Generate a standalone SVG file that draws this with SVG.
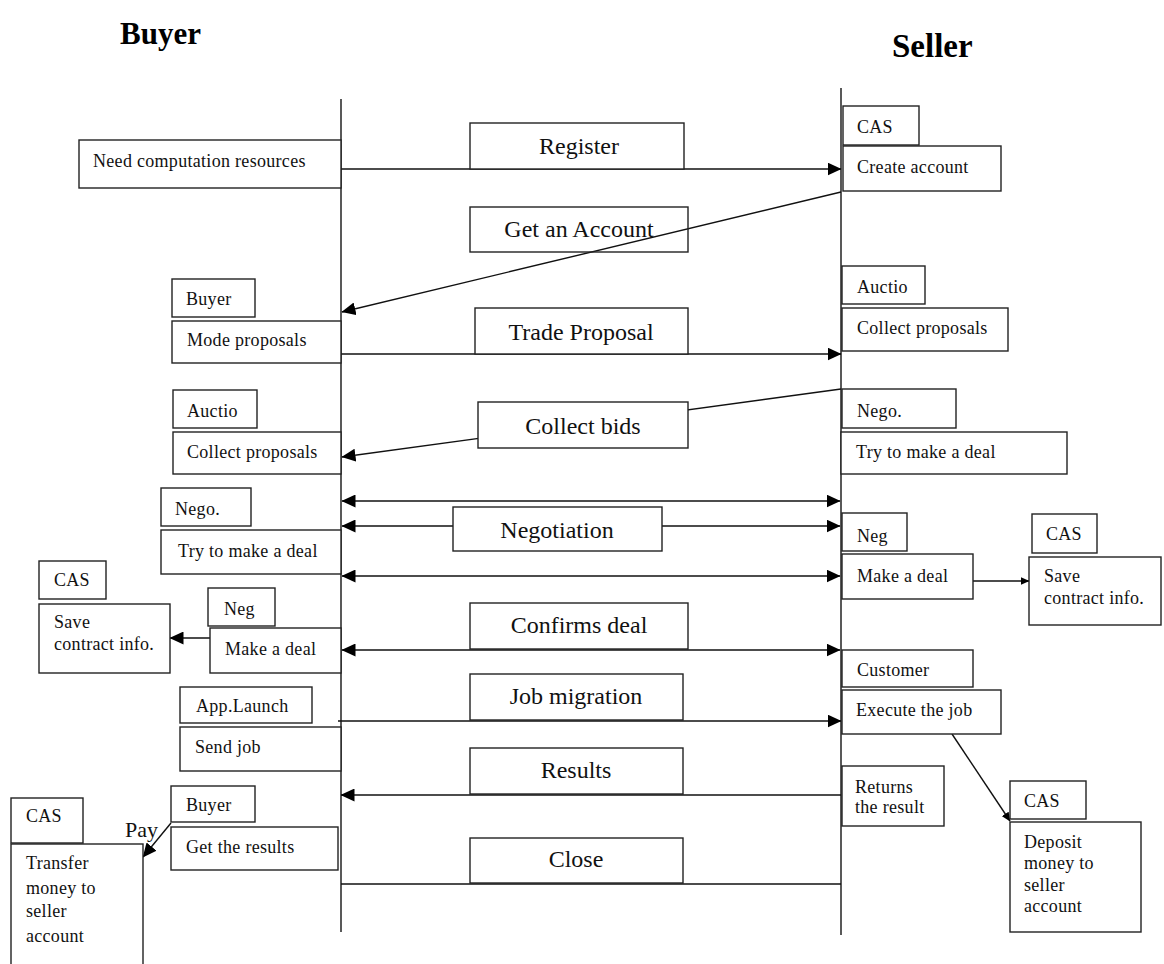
<svg xmlns="http://www.w3.org/2000/svg" width="1164" height="964" viewBox="0 0 1164 964">
  <style>
    .box { fill: #ffffff; stroke: #222; stroke-width: 1.4; }
    .open { fill: none; stroke: #222; stroke-width: 1.4; }
    .life { stroke: #222; stroke-width: 1.5; fill: none; }
    .wire { stroke: #111; stroke-width: 1.4; fill: none; }
    .t { font-family: "Liberation Serif", "Times New Roman", serif; font-size: 18px; letter-spacing: 0.3px; fill: #111; }
    .m { font-family: "Liberation Serif", "Times New Roman", serif; font-size: 24px; fill: #111; text-anchor: middle; }
    .h { font-family: "Liberation Serif", "Times New Roman", serif; font-weight: bold; fill: #000; }
  </style>
  <defs>
    <marker id="ah" viewBox="0 0 14 13" refX="13.5" refY="6.5" markerWidth="14" markerHeight="13" markerUnits="userSpaceOnUse" orient="auto-start-reverse">
      <path d="M0,0 L14,6.5 L0,13 z" fill="#000"/>
    </marker>
    <marker id="ahs" viewBox="0 0 9 8" refX="8.5" refY="4" markerWidth="9" markerHeight="8" markerUnits="userSpaceOnUse" orient="auto">
      <path d="M0,0 L9,4 L0,8 z" fill="#000"/>
    </marker>
  </defs>

  <rect width="1164" height="964" fill="#ffffff"/>

  <!-- titles -->
  <text class="h" x="120" y="44" font-size="31">Buyer</text>
  <text class="h" x="892" y="57" font-size="33">Seller</text>

  <!-- lifelines -->
  <g id="lifelines">
    <line class="life" x1="341" y1="99" x2="341" y2="932"/>
    <line class="life" x1="841" y1="88" x2="841" y2="935"/>
  </g>

  <!-- connectors -->
  <g id="connectors">
    <path class="wire" d="M341,169 H841" marker-end="url(#ah)"/>
    <path class="wire" d="M841,192 L342,312" marker-end="url(#ah)"/>
    <path class="wire" d="M341,354 H841" marker-end="url(#ah)"/>
    <path class="wire" d="M841,389 L342,457" marker-end="url(#ah)"/>
    <path class="wire" d="M342,501 H840" marker-start="url(#ah)" marker-end="url(#ah)"/>
    <path class="wire" d="M342,526 H840" marker-start="url(#ah)" marker-end="url(#ah)"/>
    <path class="wire" d="M342,576 H840" marker-start="url(#ah)" marker-end="url(#ah)"/>
    <path class="wire" d="M342,650 H840" marker-start="url(#ah)" marker-end="url(#ah)"/>
    <path class="wire" d="M973,581 H1029" marker-end="url(#ahs)"/>
    <path class="wire" d="M210,638 H170" marker-end="url(#ah)"/>
    <path class="wire" d="M338,721 H841" marker-end="url(#ah)"/>
    <path class="wire" d="M841,795 H341" marker-end="url(#ah)"/>
    <path class="wire" d="M341,884 H841"/>
    <path class="wire" d="M952,734 L1010,821" marker-end="url(#ahs)"/>
    <path class="wire" d="M171,823 L143,857" marker-end="url(#ah)"/>
    <text x="125" y="837" font-family="Liberation Serif, serif" font-size="22" fill="#111">Pay</text>
  </g>

  <!-- message labels -->
  <g id="msg-register"><rect class="box" x="470" y="123" width="214" height="46"/><text class="m" x="579" y="154">Register</text></g>
  <g id="msg-get-account"><rect class="open" x="470" y="207" width="218" height="45"/><text class="m" x="579" y="237">Get an Account</text></g>
  <g id="msg-trade"><rect class="box" x="475" y="308" width="213" height="46"/><text class="m" x="581" y="340">Trade Proposal</text></g>
  <g id="msg-bids"><rect class="box" x="478" y="402" width="210" height="46"/><text class="m" x="583" y="434">Collect bids</text></g>
  <g id="msg-negotiation"><rect class="box" x="453" y="507" width="209" height="44"/><text class="m" x="557" y="538">Negotiation</text></g>
  <g id="msg-confirms"><rect class="box" x="470" y="603" width="218" height="46"/><text class="m" x="579" y="633">Confirms deal</text></g>
  <g id="msg-job"><rect class="box" x="470" y="674" width="213" height="46"/><text class="m" x="576" y="704">Job migration</text></g>
  <g id="msg-results"><rect class="box" x="470" y="748" width="213" height="46"/><text class="m" x="576" y="778">Results</text></g>
  <g id="msg-close"><rect class="box" x="470" y="838" width="213" height="45"/><text class="m" x="576" y="867">Close</text></g>

  <!-- buyer side -->
  <g id="b-need"><rect class="box" x="79" y="140" width="262" height="48"/><text class="t" x="93" y="167">Need computation resources</text></g>
  <g id="b-buyer1"><rect class="box" x="172" y="279" width="83" height="38"/><text class="t" x="186" y="305">Buyer</text></g>
  <g id="b-mode"><rect class="box" x="172" y="321" width="169" height="42"/><text class="t" x="187" y="346">Mode proposals</text></g>
  <g id="b-auctio"><rect class="box" x="173" y="390" width="84" height="38"/><text class="t" x="187" y="417">Auctio</text></g>
  <g id="b-collect"><rect class="box" x="173" y="432" width="168" height="42"/><text class="t" x="187" y="458">Collect proposals</text></g>
  <g id="b-nego"><rect class="box" x="161" y="488" width="90" height="38"/><text class="t" x="175" y="515">Nego.</text></g>
  <g id="b-try"><rect class="box" x="161" y="530" width="180" height="44"/><text class="t" x="178" y="557">Try to make a deal</text></g>
  <g id="b-cas1"><rect class="box" x="39" y="561" width="67" height="38"/><text class="t" x="54" y="586">CAS</text></g>
  <g id="b-save"><rect class="box" x="39" y="604" width="131" height="69"/><text class="t" x="54" y="628">Save</text><text class="t" x="54" y="650">contract info.</text></g>
  <g id="b-neg"><rect class="box" x="208" y="588" width="67" height="38"/><text class="t" x="224" y="615">Neg</text></g>
  <g id="b-make"><rect class="box" x="210" y="628" width="131" height="45"/><text class="t" x="225" y="655">Make a deal</text></g>
  <g id="b-app"><rect class="box" x="180" y="687" width="132" height="36"/><text class="t" x="196" y="712">App.Launch</text></g>
  <g id="b-send"><rect class="box" x="180" y="727" width="161" height="44"/><text class="t" x="195" y="753">Send job</text></g>
  <g id="b-buyer2"><rect class="box" x="171" y="786" width="84" height="36"/><text class="t" x="186" y="811">Buyer</text></g>
  <g id="b-get"><rect class="box" x="171" y="827" width="167" height="43"/><text class="t" x="186" y="853">Get the results</text></g>
  <g id="b-cas2"><rect class="box" x="11" y="798" width="72" height="45"/><text class="t" x="26" y="822">CAS</text></g>
  <g id="b-transfer"><rect class="box" x="11" y="844" width="132" height="130"/>
    <text class="t" x="26" y="869">Transfer</text><text class="t" x="26" y="894">money to</text><text class="t" x="26" y="917">seller</text><text class="t" x="26" y="942">account</text></g>

  <!-- seller side -->
  <g id="s-cas1"><rect class="box" x="843" y="106" width="76" height="39"/><text class="t" x="857" y="133">CAS</text></g>
  <g id="s-create"><rect class="box" x="843" y="146" width="158" height="45"/><text class="t" x="857" y="173">Create account</text></g>
  <g id="s-auctio"><rect class="box" x="842" y="266" width="83" height="38"/><text class="t" x="857" y="293">Auctio</text></g>
  <g id="s-collect"><rect class="box" x="842" y="308" width="166" height="43"/><text class="t" x="857" y="334">Collect proposals</text></g>
  <g id="s-nego"><rect class="box" x="842" y="389" width="114" height="39"/><text class="t" x="857" y="417">Nego.</text></g>
  <g id="s-try"><rect class="box" x="841" y="432" width="226" height="42"/><text class="t" x="856" y="458">Try to make a deal</text></g>
  <g id="s-neg"><rect class="box" x="842" y="513" width="65" height="38"/><text class="t" x="857" y="542">Neg</text></g>
  <g id="s-make"><rect class="box" x="842" y="554" width="131" height="45"/><text class="t" x="857" y="582">Make a deal</text></g>
  <g id="s-cas2"><rect class="box" x="1032" y="514" width="65" height="39"/><text class="t" x="1046" y="540">CAS</text></g>
  <g id="s-save"><rect class="box" x="1029" y="557" width="132" height="68"/><text class="t" x="1044" y="582">Save</text><text class="t" x="1044" y="604">contract info.</text></g>
  <g id="s-customer"><rect class="box" x="842" y="650" width="131" height="37"/><text class="t" x="857" y="676">Customer</text></g>
  <g id="s-execute"><rect class="box" x="842" y="690" width="159" height="44"/><text class="t" x="856" y="716">Execute the job</text></g>
  <g id="s-returns"><rect class="box" x="842" y="766" width="102" height="60"/><text class="t" x="855" y="793">Returns</text><text class="t" x="855" y="813">the result</text></g>
  <g id="s-cas3"><rect class="box" x="1010" y="781" width="76" height="38"/><text class="t" x="1024" y="807">CAS</text></g>
  <g id="s-deposit"><rect class="box" x="1010" y="822" width="131" height="110"/>
    <text class="t" x="1024" y="848">Deposit</text><text class="t" x="1024" y="869">money to</text><text class="t" x="1024" y="891">seller</text><text class="t" x="1024" y="912">account</text></g>
</svg>
